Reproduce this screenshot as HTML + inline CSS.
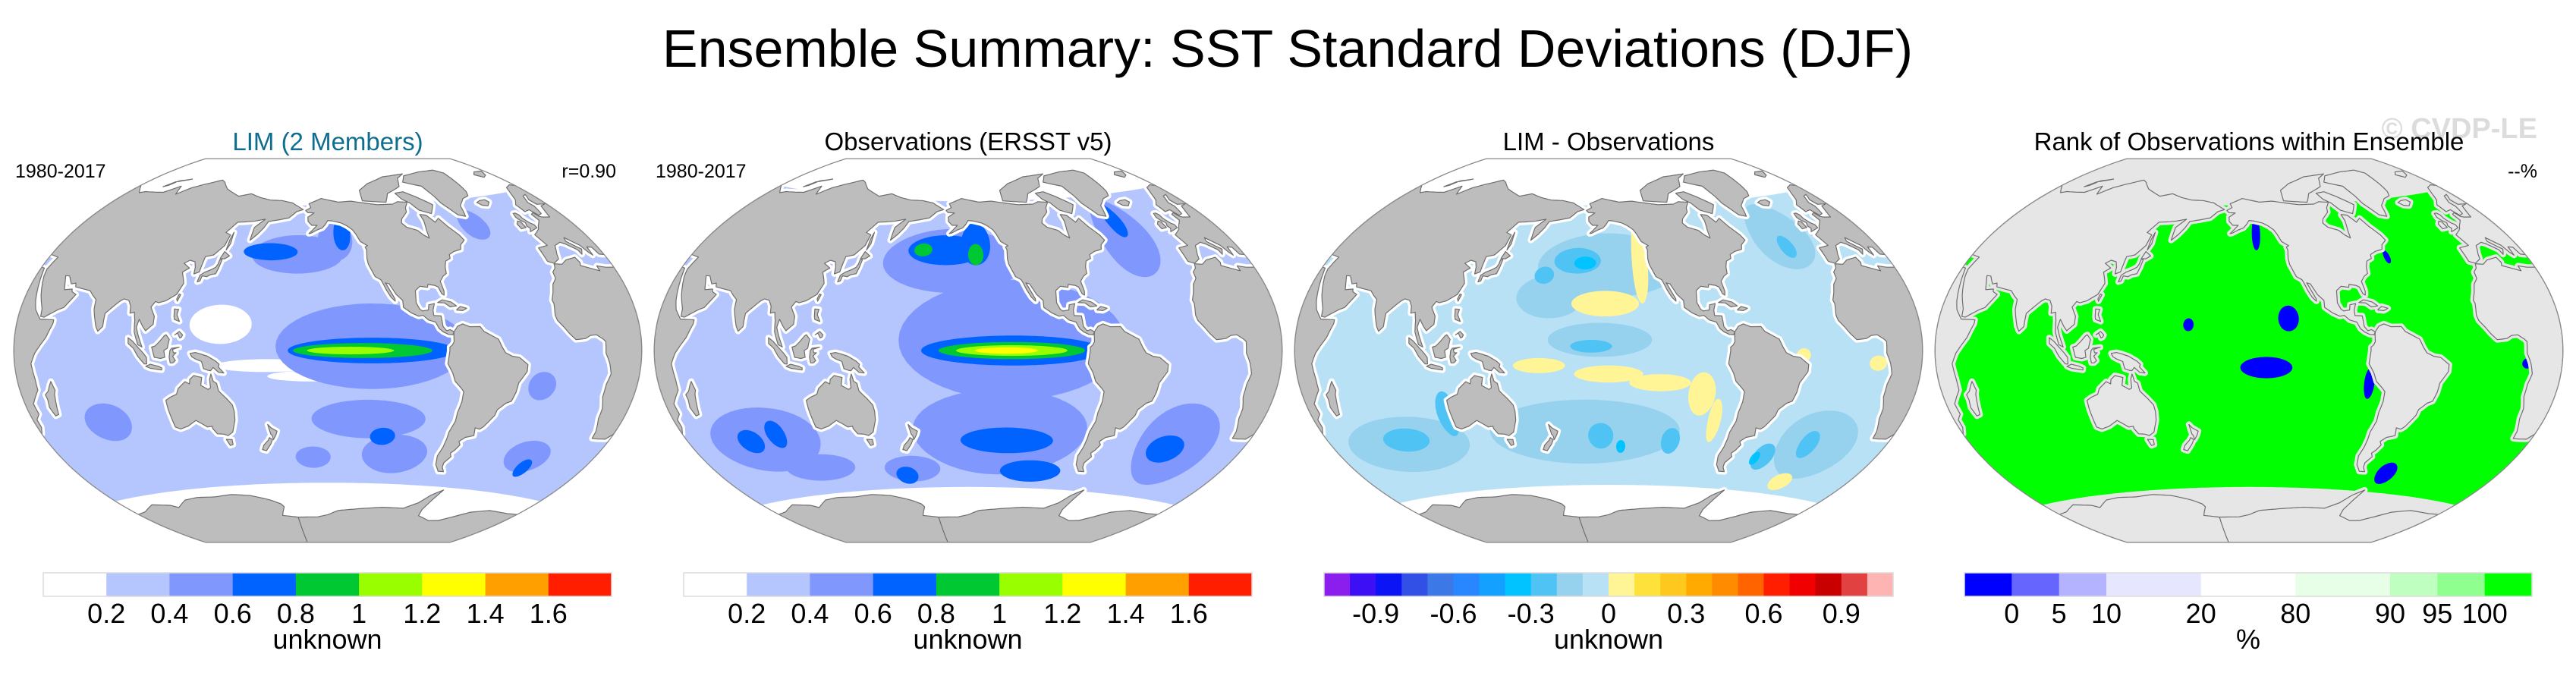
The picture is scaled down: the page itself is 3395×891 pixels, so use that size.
<!DOCTYPE html>
<html><head><meta charset="utf-8"><title>Ensemble Summary: SST Standard Deviations (DJF)</title>
<style>
html,body{margin:0;padding:0;background:#fff;}
svg{display:block;font-family:"Liberation Sans",Arial,sans-serif;}
</style></head>
<body>
<svg id="fig" xmlns="http://www.w3.org/2000/svg" width="3395" height="891" viewBox="0 0 3395 891">
<rect width="3395" height="891" fill="#fff"/>
<text x="1697" y="88" font-size="70" text-anchor="middle">Ensemble Summary: SST Standard Deviations (DJF)</text>
<text x="3344" y="182" font-size="38" font-weight="bold" fill="#dcdcdc" text-anchor="end">© CVDP-LE</text>
<text x="432" y="198" font-size="33" fill="#0f6d90" text-anchor="middle">LIM (2 Members)</text>
<text x="1276" y="198" font-size="33" text-anchor="middle">Observations (ERSST v5)</text>
<text x="2120" y="198" font-size="33" text-anchor="middle">LIM - Observations</text>
<text x="2964" y="198" font-size="33" text-anchor="middle">Rank of Observations within Ensemble</text>
<text x="20" y="234" font-size="25">1980-2017</text>
<text x="812" y="234" font-size="25" text-anchor="end">r=0.90</text>
<text x="864" y="234" font-size="25">1980-2017</text>
<text x="3344" y="234" font-size="25" text-anchor="end">--%</text>
<g id="maps"></g>
<g id="bars"></g>
</svg>
<script>
// ---------- colorbar data ----------
const sdLevels = ["0.2","0.4","0.6","0.8","1","1.2","1.4","1.6"];
const sdColors = ["#ffffff","#b4c6fd","#8097fe","#0062ff","#00c832","#99ff00","#ffff00","#ffa000","#ff1e00"];
const diffLabels = ["-0.9","-0.6","-0.3","0","0.3","0.6","0.9"];
const diffLabelIdx = [2,5,8,11,14,17,20];
const diffColors = ["#8c1eed","#3c0ff5","#0a14f5","#3250e6","#3c78e6","#2887ff","#14a0ff","#00c3ff","#50c3f5","#96d2ee","#b9e1f5","#fff596","#ffe13c","#ffc81e","#ffaa00","#ff8c00","#ff6400","#ff1e00","#f00000","#c80000","#e14141","#ffb4b4"];
const rankLabels = ["0","5","10","20","80","90","95","100"];
const rankColors = ["#0000ff","#6666ff","#b3b3ff","#e6e6ff","#ffffff","#e6ffe6","#bfffbf","#8fff8f","#00ff00"];
const rankWeights = [1,1,1,2,2,2,1,1,1];

// ---------- map data (lon, lat, radius-lon, radius-lat, colour index) ----------
const lim = [
 [148,12,18,9,0],[175,-7,30,3,0],[-160,-12,25,2.5,0],
 [-125,2,55,20,2],[-170,45,30,9,2],[-145,52,12,10,2],[-125,-32,35,9,2],[-105,-48,22,9,2],[-160,-50,12,5,2],[75,-30,14,8,2],[-15,-45,15,7,2],[-42,56,10,7,2],[-25,-15,8,6,2],
 [-125,0,48,6,3],[172,46,18,4,3],[-140,55,6,8,3],[-115,-40,8,4,3],[-12,-50,5,4,3],
 [-130,0,40,3.5,4],[-137,0,25,1.8,5]
];
const obs = [
 [-125,5,65,28,2],[-160,42,45,15,2],[-130,-38,55,20,2],[80,-38,35,14,2],[-15,-40,25,18,2],[-40,50,18,18,2],[105,-52,25,6,2],[170,-55,20,6,2],
 [-125,0,52,7,3],[-165,47,25,7,3],[-145,50,10,10,3],[-125,-42,30,6,3],[-105,-56,22,5,3],[-20,-42,12,6,3],[70,-38,8,5,3],[88,-36,6,6,3],[-40,58,6,8,3],[165,-58,8,4,3],
 [-125,0,42,4,4],[-145,45,5,5,4],[-180,47,6,3,4],
 [-125,0,32,2.5,5],[-128,0,18,1.5,6]
];
const diff = [
 [-150,40,45,15,9],[-165,-38,60,15,9],[80,-40,40,12,9],[-30,50,20,15,9],[-15,-40,25,15,9],[-155,5,30,8,9],[175,25,20,10,9],
 [-170,42,15,6,8],[-160,2,12,3,8],[-155,-40,8,6,8],[-110,-42,6,6,8],[80,-38,15,5,8],[112,-28,6,10,8],[-45,-47,7,6,8],[-20,-40,6,6,8],[-30,45,5,5,8],[170,35,6,4,8],
 [-165,41,7,3,7],[-142,-45,3,3,7],[-50,-48,3,3,7],
 [-152,22,20,6,11],[-130,42,5,20,11],[170,-7,15,3.5,11],[-150,-11,20,4,11],[-120,-15,18,4,11],[-95,-20,8,10,11],[-85,-32,4,10,11],[5,-5,5,3,11],[-20,-57,8,4,11],[-38,-2,4,3,11]
];
const rank = [
 [-140,-8,15,5,0],[-127,15,6,6,0],[-145,55,3,8,0],[-80,-15,3,7,0],[-50,-55,7,5,0],[10,-5,3,2,0],[-60,42,2,3,0],[175,12,3,3,0]
];

const LAND = {
 eurasia:[[-9,37],[-9,43],[-2,43.5],[-4.5,48.5],[1.5,50.5],[4,52],[8.5,54],[8,57],[10.5,57.5],[12,55.5],[14,55],[19,54.5],[21,57],[23.5,59.5],[29,60],[22,60.5],[21,63],[25,65.5],[21,65],[17,62],[18,60],[16,56.5],[12.5,56],[10.5,59],[5.5,58.5],[5,62],[10,64],[14,67],[19,70],[26,71],[31,70],[40,67],[44,68],[53,68.5],[60,69],[68,73],[73,69],[80,73],[87,75],[100,78],[105,77],[114,74],[130,71],[140,72.5],[150,71],[160,70],[170,70],[180,69],[190,66],[185,65],[180,62],[173,61],[165,60],[163,57],[160,54],[156,51],[156,57],[162,61],[155,60],[150,59.5],[142,59],[137,54],[141,53],[140,48],[135,43.5],[130,42.5],[129.5,35.5],[126.5,34.5],[126,37.5],[124.5,40],[121,40.5],[118,39],[122.5,37],[119,35],[121,32],[122,30],[119.5,25],[114,22],[110,21],[108,21.5],[106,19],[109,15],[109,11.5],[105,8.6],[103,10.5],[100.5,13.5],[99.5,10],[101,6.5],[103.5,1.5],[101,2.5],[98.5,8],[98,13],[97,16.5],[94.5,16],[94,19],[92,21.5],[89,22],[87,21],[85,19.5],[80,15.5],[80,10],[77.5,8],[76,10],[73,17],[72.5,21],[70,22.5],[67,24.5],[62,25],[57.5,25.5],[56.5,27],[54,26.5],[50.5,29.5],[48,29.5],[50,26.5],[51.5,24],[56,24.5],[56.5,23.5],[59.5,22.5],[58,20.5],[55,17],[52,16],[45,12.8],[43,13],[42.5,16],[39,21],[35,28],[34.5,29.5],[34,31],[35.5,36],[30,36.5],[27,37],[26,40],[23,40.5],[22.5,37],[21,38.5],[19.5,41.5],[13.5,45.5],[12.5,44],[16,41.5],[18.5,40],[16,38],[15.5,40],[10.5,43],[8,44],[3,43],[0,39.5],[-1,37.5],[-5.5,36]],
 africa:[[-5.8,35.8],[-1,35.2],[3,36.7],[10,37.3],[11,35],[10,33.8],[15,32.3],[20,30.8],[20,32.8],[25,31.8],[32,31.2],[32.5,30],[35,24],[37,19],[39,15.5],[43,12],[51,12],[51,10.5],[48,5],[42,-1],[39.5,-5],[40.5,-11],[40.5,-15],[35,-20],[35.5,-24],[32.5,-26],[32.5,-29],[30,-31.5],[27,-33.8],[22,-34.2],[18.5,-34.3],[18,-31.5],[15,-26.5],[14.5,-22.5],[12,-18],[12,-13],[13.5,-9],[12,-5],[9.5,-1],[9.5,3.5],[8,4.5],[4.5,6.2],[1,6],[-2,4.8],[-7.5,4.4],[-11,7],[-13.5,9.5],[-16.8,12.5],[-17.5,14.7],[-16.5,19.5],[-17,21],[-15,24],[-13,27.5],[-9.8,29.8],[-9.5,32.5],[-6.8,34]],
 namerica:[[-168,65.6],[-164,67],[-166,68.8],[-156,71.3],[-141,69.6],[-130,70],[-117,68.8],[-108,68],[-95,68],[-90,69],[-82,68.5],[-86,66],[-87,64],[-93,61],[-94.5,59],[-92,57],[-85,55.3],[-82,53],[-79,51.5],[-78.5,55],[-77,59.5],[-77.5,62.5],[-73,62],[-69,58.5],[-65,60.2],[-61.5,56],[-57,52],[-55.5,49.5],[-59.5,47.6],[-61,45.5],[-66,44.8],[-70,43.5],[-70.5,41.7],[-74,40.6],[-75.5,38],[-76,35],[-78.5,33.8],[-81,31.5],[-80,27],[-80.4,25.2],[-81.7,25.9],[-83,29],[-85,29.8],[-89,30.3],[-89.5,29],[-94,29.6],[-97.2,27.6],[-97.7,22],[-96,19],[-94.5,18.2],[-91,18.6],[-90.4,21],[-87,21.5],[-88.3,18.5],[-88.2,16],[-84,15.8],[-83.4,11],[-81.5,9],[-79.5,9.5],[-77.3,8.5],[-78,7.2],[-80.5,7.3],[-83.5,8.5],[-85.7,10],[-87.5,13],[-91.5,14],[-94.5,16.2],[-97,15.8],[-101,17.3],[-105.5,20],[-105.5,23.2],[-109,26],[-112.5,31],[-114.7,31.5],[-112.5,28],[-110,24],[-110,22.9],[-112.3,24.8],[-114.5,28],[-116.5,31.7],[-117.3,33],[-120.6,34.5],[-122.5,37.7],[-124,40.3],[-124.5,43],[-124,47],[-124.7,48.4],[-123,49],[-127.5,51],[-130,54.5],[-132,56.5],[-136,58.5],[-140,59.8],[-146,60.7],[-150,61],[-152,59],[-154,57.5],[-157.5,56.6],[-162,55],[-163.5,54.8],[-158,58.7],[-162,58.7],[-165,60.5],[-165.5,62.5],[-161,64.5],[-166,64.6]],
 samerica:[[-77.3,8.5],[-75,11],[-72,12],[-68,10.7],[-62,10.7],[-60,8.5],[-52,5],[-50,1.5],[-48,-1],[-44,-2.5],[-40,-3],[-35,-6],[-35,-9],[-39,-14],[-39.5,-18],[-41,-22],[-44,-23],[-48,-26],[-48.5,-28.5],[-53,-33.8],[-55,-35],[-58,-34.5],[-57,-38],[-62,-39],[-65,-41],[-63.5,-42.5],[-65.5,-45],[-67.5,-46.5],[-66,-48],[-69,-51],[-68.5,-53],[-66,-55],[-70,-55],[-74,-52],[-75.5,-48],[-74,-44],[-73.5,-40],[-73.5,-37],[-71.5,-32],[-71.5,-28],[-70.3,-23],[-70.3,-18.5],[-72,-17],[-76,-14],[-78,-10],[-81,-6],[-80.5,-3],[-80,0],[-80,1.5],[-78.5,2.5],[-77.5,4],[-77.5,7]],
 greenland:[[-73,78],[-66,81],[-45,82.5],[-25,83],[-18,81],[-20,75],[-22,71],[-25,69],[-32,68],[-40,65],[-43,60],[-48,61],[-51,64],[-54,67],[-55,70.5],[-58,75.5],[-67,77]],
 baffin:[[-62,66.5],[-68,62.5],[-76,64.5],[-80,68],[-85,70],[-88,73],[-80,73.5],[-72,71],[-65,68]],
 arctic:[[-120,70],[-100,69],[-95,73],[-80,76],[-75,80],[-65,82],[-90,81],[-110,78],[-120,75]],
 australia:[[114,-22],[114,-26],[115,-34],[118,-35],[123,-34],[129,-31.5],[135,-34.7],[138,-34.5],[138,-35.5],[140,-38],[144,-38.3],[146.5,-39],[150,-37.5],[153,-32],[153.5,-28],[153,-25],[150,-22],[146,-18.5],[145.3,-15],[143.5,-14],[142.5,-10.7],[141.5,-13],[141.5,-17],[140,-17.7],[136,-15.8],[137,-12.2],[132.5,-11.3],[130,-13],[129.5,-15],[127,-14],[122.5,-17],[121,-19.5],[117,-20.7]],
 tasmania:[[144.6,-40.7],[148.3,-40.9],[148,-43.2],[146,-43.6]],
 nznorth:[[172.7,-34.4],[174.5,-36],[178,-37.6],[177,-39.3],[175,-41.5],[174.5,-39.5],[173.8,-39]],
 nzsouth:[[172.6,-40.5],[174.3,-41.5],[172.8,-43.5],[171,-45],[169,-46.6],[166.5,-46],[168,-44],[171.4,-41.8]],
 japan:[[130,31],[131.5,31.5],[132,33.8],[135,33.5],[137,34.5],[140,35],[141,38],[141.5,41.5],[140,41.5],[139.8,39.5],[139,38],[137,37],[133,35.5],[130.5,34]],
 hokkaido:[[140,42],[141.5,45.3],[145.5,43.4],[143,42]],
 sakhalin:[[142,46],[143.5,49],[142.7,54.3],[142,51]],
 madagascar:[[49.3,-12],[50.5,-15.5],[49.5,-17],[47.2,-25],[45,-25.4],[43.6,-22],[44.4,-19],[44,-17],[46.3,-15.7],[48,-13.5]],
 sumatra:[[95.3,5.5],[98,4],[104,-1],[106,-3],[106,-5.9],[104.5,-5.8],[101,-2.5],[98.5,1],[95.5,3]],
 java:[[105.3,-6.9],[108,-6],[112.5,-6.9],[114.5,-7.7],[114.3,-8.6],[108,-7.8]],
 borneo:[[109,1.5],[110,-1.5],[110.5,-3],[114,-3.5],[116.5,-3],[116,0],[118,1],[119,5],[117,7],[116,6.5],[113.5,4],[111,2]],
 sulawesi:[[119.5,-5.5],[119,-3],[119.5,0],[120.5,1],[124.8,1.5],[121,0.5],[121.5,-1],[123,-1],[121,-2.5],[122.5,-4.5],[121,-5.5]],
 newguinea:[[131,-1.3],[134,-0.9],[137,-1.5],[141,-2.6],[145.7,-4.9],[147.5,-6.3],[147,-7.5],[150,-10.3],[147,-10],[144,-7.7],[142.5,-9.2],[141,-9],[138.5,-8.3],[137.5,-5],[134,-3.8],[132,-2.8]],
 luzon:[[120,18.5],[122.5,18.4],[122,16],[124,13],[121,13.8],[120.5,15]],
 mindanao:[[122,7],[124.5,8.5],[126.5,7],[126,6],[125,5.6],[123.5,7.8]],
 taiwan:[[120.2,23],[121,25.2],[122,25],[120.8,22]],
 britain:[[-5.7,50],[1.5,51.2],[1.7,52.7],[0,53.5],[-2,55.9],[-1.8,57.6],[-3,58.6],[-5,58.6],[-6.2,56.8],[-4.9,55],[-3,54],[-4.5,52.6],[-3.5,51.4]],
 ireland:[[-6,52],[-6,54.5],[-7.5,55.2],[-10,54],[-10,51.7]],
 iceland:[[-22,64],[-24,65.5],[-20,66.2],[-15,66.3],[-13.5,65],[-18,63.4]],
 cuba:[[-85,21.9],[-82,23.1],[-77,22],[-74.2,20.2],[-78,19.8],[-81,21.7]],
 hispaniola:[[-74.4,18.5],[-72,19.9],[-68.4,19],[-71,18],[-74.4,18.3]],
 svalbard:[[11,78.5],[17,80],[27,80],[22,77.5],[16,76.5]],
 novayazemlya:[[52,71.5],[56,74.5],[68,77],[58,75.3],[55,72.5]]
};
const antarctic = [[-180,-78],[-160,-78],[-150,-77],[-140,-75],[-120,-74],[-100,-73],[-80,-73],[-70,-70],[-64,-66],[-57,-63.3],[-60,-68],[-62,-73],[-60,-76],[-45,-78],[-35,-77.5],[-25,-75],[-15,-72],[0,-70],[20,-70],[40,-69],[55,-66.5],[70,-68],[75,-69.5],[88,-66.5],[100,-66],[115,-66.5],[130,-66],[145,-67],[160,-69.5],[168,-71.5],[170,-73],[165,-77],[180,-78]];

// ---------- projection (Winkel tripel, centred 210E) ----------
const CLON = 210, S = 161, CY = 462;
const PANEL_CX = [432, 1276, 2120, 2964];
const D = Math.PI/180;
function wt(lam, phi){
  const l = lam*D, p = phi*D;
  const a = Math.acos(Math.max(-1,Math.min(1,Math.cos(p)*Math.cos(l/2))));
  const sc = a < 1e-9 ? 1 : Math.sin(a)/a;
  return [0.5*(l*2/Math.PI + 2*Math.cos(p)*Math.sin(l/2)/sc), 0.5*(p + Math.sin(p)/sc)];
}
function norm(d){ while(d>=180) d-=360; while(d<-180) d+=360; return d; }
function unwrap(poly){
  const out=[]; let prev=null;
  for(const [lon,lat] of poly){
    let lam;
    if(prev===null){ lam = norm(lon-CLON); }
    else { lam = prev[2] + norm(lon - prev[0]); }
    out.push([lam,lat]); prev=[lon,lat,lam];
  }
  return out;
}
function clipEdge(poly, inside, inter){
  const out=[];
  for(let i=0;i<poly.length;i++){
    const a=poly[i], b=poly[(i+1)%poly.length];
    const ia=inside(a), ib=inside(b);
    if(ia) out.push(a);
    if(ia!==ib) out.push(inter(a,b));
  }
  return out;
}
function clipLam(poly){
  const ix=(v)=>(a,b)=>{const t=(v-a[0])/(b[0]-a[0]); return [v, a[1]+t*(b[1]-a[1])];};
  let p = clipEdge(poly, q=>q[0]<=180, ix(180));
  if(p.length) p = clipEdge(p, q=>q[0]>=-180, ix(-180));
  return p;
}
function densify(poly){
  const out=[];
  for(let i=0;i<poly.length;i++){
    const a=poly[i], b=poly[(i+1)%poly.length];
    const n=Math.max(1,Math.ceil(Math.max(Math.abs(b[0]-a[0]),Math.abs(b[1]-a[1]))/3));
    for(let k=0;k<n;k++) out.push([a[0]+(b[0]-a[0])*k/n, a[1]+(b[1]-a[1])*k/n]);
  }
  return out;
}
function pathFromLam(lp, cx){
  let d='';
  for(const s of [-360,0,360]){
    const sh = lp.map(q=>[q[0]+s,q[1]]);
    const c = clipLam(sh);
    if(c.length<3) continue;
    const dn = densify(c);
    d += dn.map((q,i)=>{const [x,y]=wt(q[0],q[1]); return (i?'L':'M')+(cx+x*S).toFixed(1)+','+(CY-y*S).toFixed(1);}).join('')+'Z';
  }
  return d;
}
function lonlatPath(poly, cx){ return pathFromLam(unwrap(poly), cx); }
function blobPoly(b){
  const pts=[];
  for(let k=0;k<48;k++){ const t=k/48*2*Math.PI; pts.push([b[0]+b[2]*Math.cos(t), Math.max(-89,Math.min(89,b[1]+b[3]*Math.sin(t)))]); }
  return pts;
}
function bandPath(latS, latN, cx){
  const pts=[];
  for(let l=-180;l<=180;l+=5) pts.push([l,latS]);
  for(let l=180;l>=-180;l-=5) pts.push([l,latN]);
  return pathFromLam(pts, cx);
}
function antarcticPath(cx){
  const u = unwrap(antarctic);
  const last=u[u.length-1][0], first=u[0][0];
  u.push([last,-90]); u.push([first,-90]);
  return pathFromLam(u, cx);
}
function outlinePath(cx){
  const pts=[];
  for(let l=-180;l<=180;l+=2) pts.push([l,90]);
  for(let p=90;p>=-90;p-=2) pts.push([180,p]);
  for(let l=180;l>=-180;l-=2) pts.push([l,-90]);
  for(let p=-90;p<=90;p+=2) pts.push([-180,p]);
  return pts.map((q,i)=>{const [x,y]=wt(q[0],q[1]); return (i?'L':'M')+(cx+x*S).toFixed(1)+','+(CY-y*S).toFixed(1);}).join('')+'Z';
}
const NS='http://www.w3.org/2000/svg';
function mk(tag, attrs, parent){
  const e=document.createElementNS(NS,tag);
  for(const k in attrs) e.setAttribute(k, attrs[k]);
  parent.appendChild(e); return e;
}
const maps=document.getElementById('maps');
const panels=[
 {name:'lim', blobs:lim, pal:sdColors, base:sdColors[1], bg:'#ffffff', land:'#bdbdbd', margin:'#ffffff', band:[-62,68]},
 {name:'obs', blobs:obs, pal:sdColors, base:sdColors[1], bg:'#ffffff', land:'#bdbdbd', margin:'#ffffff', band:[-64,70]},
 {name:'diff', blobs:diff, pal:diffColors, base:diffColors[10], bg:'#ffffff', land:'#bdbdbd', margin:'#ffffff', band:[-63,68]},
 {name:'rank', blobs:rank, pal:rankColors, base:rankColors[8], bg:'#e6e6e6', land:'#e6e6e6', margin:'#e6e6e6', band:[-64,68]}
];
panels.forEach((P,pi)=>{
  const cx=PANEL_CX[pi];
  const g=mk('g',{},maps);
  
  
  const cid='clip'+pi;
  const cp=mk('clipPath',{id:cid},g);
  mk('path',{d:outlinePath(cx)},cp);
  const inner=mk('g',{'clip-path':'url(#'+cid+')'},g);
  const bg=mk('path',{d:outlinePath(cx), fill:P.bg},inner);
  
  
  const band=mk('path',{d:bandPath(P.band[0],P.band[1],cx), fill:P.base},inner);
  
  
  P.blobs.forEach(b=>{
    const e=mk('path',{d:lonlatPath(blobPoly(b),cx), fill:P.pal[b[4]]},inner);
    
    
  });
  const landD = Object.keys(LAND).map(k=>lonlatPath(LAND[k],cx)).join('') + antarcticPath(cx);
  const m=mk('path',{d:landD, fill:P.margin, stroke:P.margin, 'stroke-width':8, 'stroke-linejoin':'round'},inner);
  
  
  const ld=mk('path',{d:landD, fill:P.land, stroke:'#6e6e6e', 'stroke-width':1.2, 'stroke-linejoin':'round'},inner);
  
  
  const ol=mk('path',{d:outlinePath(cx), fill:'none', stroke:'#8a8a8a', 'stroke-width':1.3},g);
  
  
});

// ---------- colorbars ----------
const bars=document.getElementById('bars');
const BAR_Y=755, BAR_H=31, TICK_Y=821, TITLE_Y=855;
function colorbar(x0, x1, colors, weights, labels, labelIdx, title, nm){
  const g=mk('g',{},bars);
  
  
  const tot=weights.reduce((a,b)=>a+b,0);
  const bounds=[x0]; let acc=0;
  weights.forEach(w=>{acc+=w; bounds.push(x0+(x1-x0)*acc/tot);});
  colors.forEach((c,i)=>{
    const r=mk('rect',{x:bounds[i].toFixed(1), y:BAR_Y, width:(bounds[i+1]-bounds[i]+0.5).toFixed(1), height:BAR_H, fill:c},g);
    
    
  });
  const fr=mk('rect',{x:x0, y:BAR_Y, width:x1-x0, height:BAR_H, fill:'none', stroke:'#dcdcdc', 'stroke-width':1.5},g);
  
  
  labels.forEach((t,i)=>{
    const tx=mk('text',{x:bounds[labelIdx[i]].toFixed(1), y:TICK_Y, 'font-size':36, 'text-anchor':'middle'},g);
    tx.textContent=t;
    
    
  });
  const tt=mk('text',{x:((x0+x1)/2).toFixed(1), y:TITLE_Y, 'font-size':36, 'text-anchor':'middle'},g);
  tt.textContent=title;
  
  
}
const eq=n=>Array(n).fill(1);
colorbar(57,806,sdColors,eq(sdColors.length),sdLevels,[1,2,3,4,5,6,7,8],'unknown','colorbar-lim');
colorbar(901,1650,sdColors,eq(sdColors.length),sdLevels,[1,2,3,4,5,6,7,8],'unknown','colorbar-obs');
colorbar(1745,2495,diffColors,eq(diffColors.length),diffLabels,diffLabelIdx,'unknown','colorbar-diff');
colorbar(2589,3337,rankColors,rankWeights,rankLabels,[1,2,3,4,5,6,7,8],'%','colorbar-rank');
</script>
</body></html>
